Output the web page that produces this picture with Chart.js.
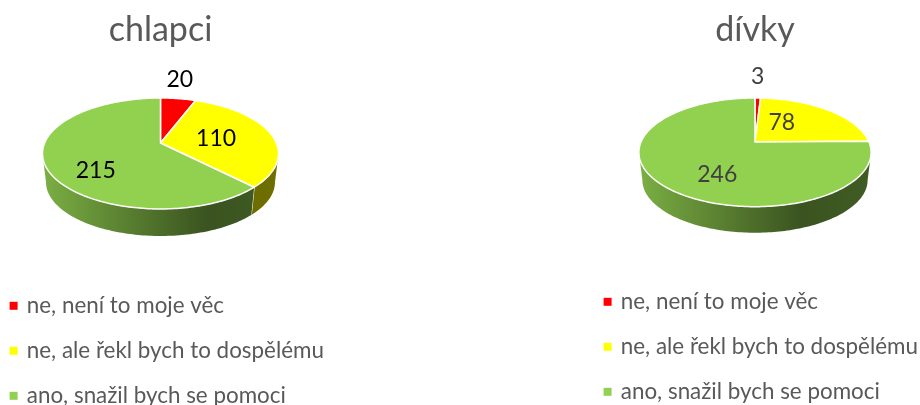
<!DOCTYPE html>
<html>
<head>
<meta charset="utf-8">
<script src="https://cdn.jsdelivr.net/npm/chart.js@4/dist/chart.umd.js"></script>
<style>
  html, body { margin: 0; padding: 0; background: #fff; overflow: hidden; width: 920px; height: 405px; }
  canvas { position: absolute; top: 0; }
</style>
</head>
<body>
<canvas id="chlapci" width="343" height="417" style="left:-11px"></canvas>
<canvas id="divky" width="344" height="416" style="left:583px"></canvas>
<script>
const categories = ['ne, není to moje věc', 'ne, ale řekl bych to dospělému', 'ano, snažil bych se pomoci'];
const sliceColors = ['#ff0000', '#ffff00', '#92d050'];
const chlapciValues = [20, 110, 215];
const divkyValues = [3, 78, 246];

// how dark the side wall gets from left to right
const sideShade = [[0, 0.84], [0.25, 0.68], [0.7, 0.40], [1, 0.44]];

function shade(hex, k) {
  const n = parseInt(hex.slice(1), 16);
  return 'rgb(' + Math.round((n >> 16) * k) + ',' + Math.round(((n >> 8) & 255) * k) + ',' + Math.round((n & 255) * k) + ')';
}

// Excel style tilted pie: the slice angles come from the pie controller, only the projection is done here
const pie3d = {
  id: 'pie3d',
  beforeDatasetsDraw(chart, args, o) {
    const ctx = chart.ctx;
    const cx = chart.width / 2;
    const point = (t, r, s, dy) => {
      const u = r * Math.sin(t), v = -r * Math.cos(t), f = 1 / (1 - o.p * v);
      return { x: cx + s * o.a * u * f, y: o.y + dy + s * o.b * v * f };
    };
    const trace = (from, to, r, s, dy) => {
      const steps = Math.max(2, Math.ceil(Math.abs(to - from) / 0.02));
      for (let i = 0; i <= steps; i++) {
        const q = point(from + (to - from) * i / steps, r, s, dy);
        ctx.lineTo(q.x, q.y);
      }
    };
    const arcs = chart.getDatasetMeta(0).data;
    const tangent = Math.acos(-o.p);
    const colors = chart.data.datasets[0].backgroundColor;

    arcs.forEach((arc, i) => {
      const a0 = arc.startAngle + Math.PI / 2, a1 = arc.endAngle + Math.PI / 2;
      // side wall, only the part that faces the viewer
      const from = Math.max(a0, tangent), to = Math.min(a1, 2 * Math.PI - tangent);
      if (to > from) {
        const rx = o.a / Math.sqrt(1 - o.p * o.p);
        const g = ctx.createLinearGradient(cx - rx, 0, cx + rx, 0);
        sideShade.forEach(st => g.addColorStop(st[0], shade(colors[i], st[1])));
        ctx.beginPath();
        trace(from, to, 1, 1, 0);
        trace(to, from, 1, o.bottomScale, o.depth);
        ctx.closePath();
        ctx.fillStyle = g;
        ctx.fill();
        if (a1 < 2 * Math.PI - tangent) {
          const p1 = point(a1, 1, 1, 0), p2 = point(a1, 1, o.bottomScale, o.depth);
          ctx.beginPath();
          ctx.moveTo(p1.x, p1.y);
          ctx.lineTo(p2.x, p2.y);
          ctx.strokeStyle = '#fff';
          ctx.lineWidth = 1;
          ctx.stroke();
        }
      }
    });

    arcs.forEach((arc, i) => {
      const a0 = arc.startAngle + Math.PI / 2, a1 = arc.endAngle + Math.PI / 2;
      const c = point(0, 0, 1, 0);
      ctx.beginPath();
      ctx.moveTo(c.x, c.y);
      trace(a0, a1, 1, 1, 0);
      ctx.closePath();
      ctx.fillStyle = colors[i];
      ctx.fill();
      ctx.strokeStyle = '#fff';
      ctx.lineWidth = 1.5;
      ctx.lineJoin = 'round';
      ctx.stroke();
    });

    // value labels sit near the middle of each slice
    const values = chart.data.datasets[0].data;
    ctx.font = o.labelFont;
    ctx.fillStyle = o.labelColor;
    ctx.textAlign = 'center';
    ctx.textBaseline = 'middle';
    arcs.forEach((arc, i) => {
      const mid = (arc.startAngle + arc.endAngle) / 2 + Math.PI / 2;
      const q = point(mid, 0.6, 1, 0);
      ctx.fillText(String(values[i]), q.x + o.labelShift[i][0], q.y + o.labelShift[i][1]);
    });
    return false;
  }
};

function makePie(id, title, values, geo, legendPad) {
  return new Chart(document.getElementById(id), {
    type: 'pie',
    data: {
      labels: categories,
      datasets: [{ data: values, backgroundColor: sliceColors, borderWidth: 0 }]
    },
    plugins: [pie3d],
    options: {
      responsive: false,
      animation: false,
      events: [],
      layout: { padding: { bottom: legendPad } },
      plugins: {
        title: {
          display: true,
          text: title,
          color: '#595959',
          font: { family: 'Lato', size: 34, weight: 'normal' },
          padding: { top: 10, bottom: 10 }
        },
        legend: {
          position: 'bottom',
          align: 'start',
          labels: {
            usePointStyle: true,
            pointStyle: 'rect',
            boxWidth: 4,
            boxHeight: 8,
            color: '#595959',
            padding: 22.6,
            font: { family: 'Lato', size: 22.4 }
          }
        },
        tooltip: { enabled: false },
        pie3d: geo
      }
    }
  });
}

makePie('chlapci', 'chlapci', chlapciValues, {
  y: 143, a: 115.9, b: 53.5, p: 0.189, depth: 29, bottomScale: 0.97,
  labelFont: '23px Lato', labelColor: '#000000',
  labelShift: [[8, -35], [-11, 2], [2.5, 15]]
}, 0);

makePie('divky', 'dívky', divkyValues, {
  y: 142, a: 114, b: 52.4, p: 0.19, depth: 28, bottomScale: 0.97,
  labelFont: '23px Lato', labelColor: '#404040',
  labelShift: [[1, -37], [-19, 1], [14.5, 8]]
}, 3);
</script>
</body>
</html>
